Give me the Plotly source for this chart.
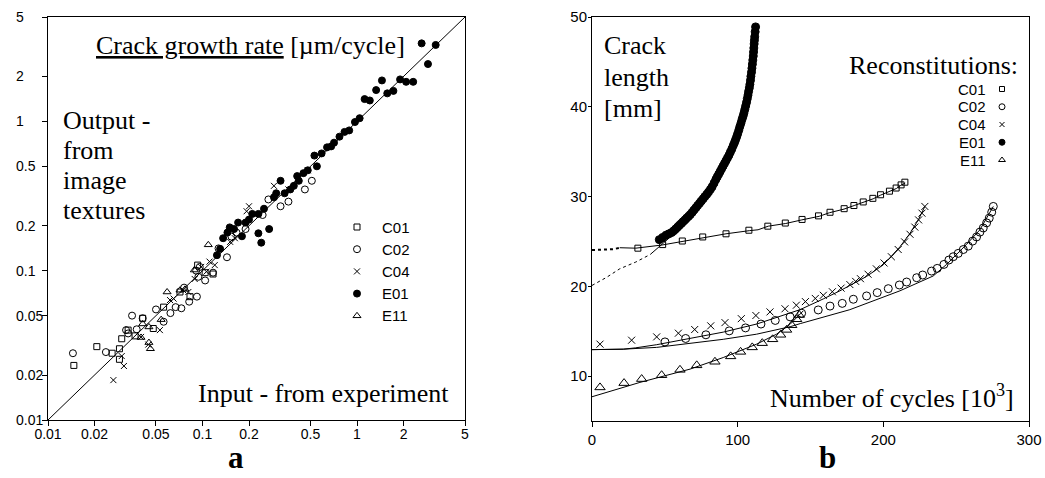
import math
import plotly.graph_objects as go

W, H = 1045, 478
SERIF = "Liberation Serif, Times New Roman, serif"
SANS = "Liberation Sans, Arial, sans-serif"

# ---------------- Panel a: crack growth rate, input vs output ----------------
diag_vals = [0.01, 5]

c01_in = [0.0147, 0.0207, 0.026, 0.029, 0.029, 0.030, 0.033, 0.0366, 0.041, 0.048,
          0.056, 0.0715, 0.083, 0.093, 0.104, 0.117]
c01_out = [0.0232, 0.031, 0.028, 0.030, 0.0255, 0.035, 0.040, 0.0366, 0.048, 0.041,
           0.057, 0.072, 0.067, 0.109, 0.097, 0.095]

c02_in = [0.0145, 0.0237, 0.033, 0.035, 0.032, 0.0375, 0.041, 0.050, 0.056, 0.062,
          0.067, 0.073, 0.082, 0.092, 0.076, 0.096, 0.104, 0.117, 0.091, 0.094,
          0.144, 0.127, 0.154, 0.166, 0.19, 0.245, 0.267, 0.32, 0.36, 0.46, 0.51]
c02_out = [0.028, 0.0285, 0.038, 0.050, 0.040, 0.0405, 0.048, 0.055, 0.0455, 0.052,
           0.057, 0.056, 0.062, 0.067, 0.077, 0.106, 0.086, 0.097, 0.10, 0.091,
           0.123, 0.141, 0.169, 0.18, 0.19, 0.236, 0.30, 0.27, 0.29, 0.35, 0.40]

c04_in = [0.0265, 0.031, 0.030, 0.040, 0.0446, 0.053, 0.0616, 0.065, 0.075, 0.081,
          0.089, 0.098, 0.106, 0.111, 0.12, 0.151, 0.162, 0.193, 0.20, 0.29, 0.36, 0.48]
c04_out = [0.0185, 0.023, 0.0268, 0.036, 0.032, 0.040, 0.0636, 0.065, 0.074, 0.072,
           0.088, 0.106, 0.0985, 0.115, 0.109, 0.156, 0.165, 0.25, 0.27, 0.37, 0.35, 0.47]

e01_in = [2.62, 3.23, 2.88, 1.45, 1.90, 2.08, 2.31, 1.33, 1.57, 1.72, 1.12, 1.21, 1.04,
          0.97, 0.89, 0.83, 0.77, 0.71, 0.68, 0.64, 0.59, 0.53, 0.55, 0.48, 0.45, 0.41,
          0.42, 0.32, 0.39, 0.37, 0.34, 0.30, 0.29, 0.25, 0.23, 0.21, 0.20, 0.19, 0.17,
          0.16, 0.15, 0.145, 0.136, 0.18, 0.23, 0.24, 0.27, 0.13, 0.124]
e01_out = [3.33, 3.25, 2.42, 1.88, 1.91, 1.84, 1.84, 1.62, 1.54, 1.60, 1.41, 1.38, 1.05,
           0.99, 0.87, 0.85, 0.79, 0.72, 0.68, 0.67, 0.61, 0.59, 0.50, 0.47, 0.45, 0.43,
           0.40, 0.40, 0.37, 0.35, 0.33, 0.33, 0.31, 0.26, 0.24, 0.24, 0.22, 0.21, 0.21,
           0.19, 0.195, 0.18, 0.165, 0.17, 0.178, 0.154, 0.19, 0.14, 0.127]

e11_in = [0.040, 0.041, 0.045, 0.046, 0.045, 0.054, 0.059, 0.0715, 0.077, 0.0885, 0.109]
e11_out = [0.0357, 0.044, 0.042, 0.030, 0.033, 0.047, 0.072, 0.074, 0.075, 0.101, 0.149]

log_ticks = [0.01, 0.02, 0.05, 0.1, 0.2, 0.5, 1, 2, 5]
log_tick_text = ["0.01", "0.02", "0.05", "0.1", "0.2", "0.5", "1", "2", "5"]

# ---------------- Panel b: crack length vs number of cycles ----------------
c01_cyc = [31.5, 48.5, 62, 76, 92, 107.7, 120.7, 132.7, 144.2, 155.5, 163.4, 173.1,
           179.8, 186.2, 192.8, 198.1, 204.2, 208.8, 212.2, 214.8]
c01_len = [24.25, 24.65, 25.05, 25.5, 25.85, 26.25, 26.7, 27.05, 27.45, 27.85, 28.25,
           28.65, 29.0, 29.4, 29.8, 30.2, 30.6, 30.95, 31.3, 31.6]
c01_line_cyc = [19, 30, 48, 62, 76, 92, 108, 114, 121, 133, 144, 156, 163, 173, 180,
                186, 193, 198, 204, 209, 212, 215]
c01_line_len = [24.3, 24.25, 24.6, 25.0, 25.45, 25.85, 26.2, 26.3, 26.7, 27.0, 27.4,
                27.8, 28.2, 28.6, 29.0, 29.35, 29.75, 30.15, 30.55, 30.9, 31.25, 31.5]
c01_dot_cyc = [0, 5, 10, 15, 19]
c01_dot_len = [24.05, 24.05, 24.1, 24.15, 24.3]

e01_cyc = [46.2, 48.5, 50.8, 52.8, 54.7, 56.2, 57.5, 58.8, 60, 61.3, 62.5, 63.8, 65,
           66.3, 67.5, 68.8, 70, 71.3, 72.5, 73.8, 75, 76.3, 77.5, 78.8, 80, 81.3,
           82.5, 83.8, 85, 86, 87, 88, 89, 90, 91, 92, 93, 94, 95, 96, 97, 97.8, 98.5,
           99.3, 100, 100.8, 101.5, 102.3, 103, 103.7, 104.3, 104.9, 105.5, 106.1,
           106.6, 107.1, 107.5, 108, 108.4, 108.8, 109.1, 109.5, 109.8, 110.1, 110.4,
           110.7, 110.9, 111.1, 111.3, 111.5, 111.7, 112, 112.3]
e01_len = [25.2, 25.45, 25.7, 25.85, 26.0, 26.2, 26.4, 26.6, 26.8, 27.0, 27.2, 27.4,
           27.6, 27.8, 28.0, 28.25, 28.5, 28.75, 29.0, 29.25, 29.5, 29.75, 30.0, 30.25,
           30.5, 30.8, 31.1, 31.5, 31.9, 32.2, 32.5, 32.8, 33.1, 33.4, 33.7, 34.0, 34.3,
           34.6, 34.95, 35.3, 35.7, 36.0, 36.3, 36.65, 37.0, 37.4, 37.8, 38.2, 38.6,
           38.95, 39.3, 39.7, 40.1, 40.5, 40.9, 41.3, 41.7, 42.1, 42.5, 42.95, 43.4,
           43.85, 44.3, 44.75, 45.2, 45.65, 46.1, 46.55, 47.0, 47.4, 47.8, 48.35, 48.9]
e01_line_cyc = [40, 44, 48, 53, 58, 63, 67, 70, 73, 77.5, 82, 86.7, 90, 94, 98, 102,
                105, 107.5, 109.5, 111, 112.3]
e01_line_len = [23.55, 24.1, 24.7, 25.4, 26.1, 26.8, 27.4, 28.0, 28.7, 30.0, 31.0, 31.9,
                33.1, 34.6, 36.3, 38.3, 40.1, 41.9, 44.0, 46.0, 48.3]
e01_dot_cyc = [0, 10, 19, 30, 40]
e01_dot_len = [20.1, 21.0, 21.95, 22.7, 23.55]

c04_cyc = [5.5, 27.2, 44.4, 59.3, 70.5, 81.5, 91.3, 102.5, 112.5, 122.2, 132.5, 140.3,
           146.5, 153.3, 158.8, 165.0, 171.0, 177.0, 181, 184.3, 189.5, 195.2, 200.5,
           205.5, 210.2, 214.6, 218.3, 221.6, 224.2, 226.5, 228.5]
c04_len = [13.56, 14.0, 14.37, 14.78, 15.19, 15.6, 15.96, 16.4, 16.75, 17.15, 17.5, 17.9,
           18.3, 18.65, 19.0, 19.4, 19.8, 20.2, 20.55, 20.85, 21.35, 21.95, 22.6, 23.3,
           24.1, 24.95, 25.8, 26.6, 27.4, 28.15, 28.9]
c04_line_cyc = [0, 10, 21.5, 30, 44.4, 67.3, 90.1, 113, 136, 142.8, 158.8, 170.2, 188.5,
                200, 211.4, 218.3, 224, 228.5]
c04_line_len = [12.95, 12.95, 13.0, 13.15, 13.5, 14.2, 14.9, 15.8, 17.0, 17.4, 18.6, 19.5,
                21.1, 22.4, 24.4, 25.9, 27.4, 28.9]

c02_cyc = [50.1, 64.3, 78.2, 94.2, 105.4, 116, 125.8, 136, 143.9, 155.3, 163.4, 171.8,
           179.4, 188.5, 195.8, 203.4, 211, 216, 222.9, 227, 233.1, 237, 241.6, 245, 248,
           251.4, 254.9, 258.3, 261.3, 264, 266.3, 268.6, 270.9, 272.7, 274.4, 275.5]
c02_len = [13.81, 14.19, 14.6, 15.04, 15.37, 15.8, 16.2, 16.6, 17.0, 17.37, 17.8, 18.1,
           18.56, 18.93, 19.3, 19.74, 20.15, 20.48, 20.96, 21.26, 21.7, 22.0, 22.44, 22.93,
           23.3, 23.67, 24.1, 24.48, 25.04, 25.5, 26.04, 26.5, 27.07, 27.6, 28.26, 28.9]
c02_line_cyc = [0, 21.5, 44.4, 67.3, 90.1, 113, 136, 143, 159, 171, 177, 211.4, 234.2,
                243.4, 257.1, 266.3, 275.5]
c02_line_len = [12.95, 13.0, 13.2, 13.63, 14.1, 14.67, 15.5, 15.85, 16.6, 17.1, 17.4,
                19.5, 21.15, 22.44, 24.67, 26.3, 28.9]

e11_cyc = [5.5, 22, 34.1, 47.8, 60.4, 71.9, 84.4, 95.2, 102, 110, 116.9, 124, 129.5,
           133.6, 137.1, 140.5, 142.3]
e11_len = [8.74, 9.22, 9.67, 10.1, 10.7, 11.2, 11.6, 12.2, 12.7, 13.2, 13.67, 14.1, 14.6,
           15.15, 15.67, 16.33, 16.8]
e11_line_cyc = [0, 32.9, 67.3, 90.1, 113, 126.7, 136, 145]
e11_line_len = [7.7, 9.3, 10.78, 12.07, 13.56, 14.67, 15.78, 17.26]

legend_names = ["C01", "C02", "C04", "E01", "E11"]

# ---------------- styles ----------------
BLACK = "black"
sym = {"C01": "square-open", "C02": "circle-open", "C04": "x-thin-open",
       "E01": "circle", "E11": "triangle-up-open"}
size_a = {"C01": 6, "C02": 7, "C04": 6, "E01": 7, "E11": 7}
size_b = {"C01": 6, "C02": 8, "C04": 7, "E01": 8, "E11": 9}


def mk(name, sizes, delta=0):
    return dict(symbol=sym[name], size=sizes[name] + delta, color=BLACK,
                line=dict(color=BLACK, width=1))


fig = go.Figure()

# panel a
fig.add_trace(go.Scatter(x=diag_vals, y=diag_vals, mode="lines",
                         line=dict(color=BLACK, width=1), xaxis="x", yaxis="y"))
for name, xs, ys in [("C01", c01_in, c01_out), ("C02", c02_in, c02_out),
                     ("C04", c04_in, c04_out), ("E11", e11_in, e11_out),
                     ("E01", e01_in, e01_out)]:
    fig.add_trace(go.Scatter(x=xs, y=ys, mode="markers", marker=mk(name, size_a),
                             xaxis="x", yaxis="y"))

# panel b lines
for xs, ys, dash, w in [(c01_dot_cyc, c01_dot_len, "dot", 2),
                        (e01_dot_cyc, e01_dot_len, "dot", 1),
                        (c01_line_cyc, c01_line_len, "solid", 1),
                        (e01_line_cyc, e01_line_len, "solid", 1),
                        (c04_line_cyc, c04_line_len, "solid", 1),
                        (c02_line_cyc, c02_line_len, "solid", 1),
                        (e11_line_cyc, e11_line_len, "solid", 1)]:
    fig.add_trace(go.Scatter(x=xs, y=ys, mode="lines",
                             line=dict(color=BLACK, width=w, dash=dash),
                             xaxis="x2", yaxis="y2"))
# panel b markers
for name, xs, ys in [("C01", c01_cyc, c01_len), ("C04", c04_cyc, c04_len),
                     ("C02", c02_cyc, c02_len), ("E11", e11_cyc, e11_len),
                     ("E01", e01_cyc, e01_len)]:
    fig.add_trace(go.Scatter(x=xs, y=ys, mode="markers", marker=mk(name, size_b),
                             xaxis="x2", yaxis="y2"))

# legends drawn on a pixel-space overlay axis
annotations = []
LA_X, LA_TX, LA_Y0, LA_DY = 357, 380, 227, 22.2
LB_X, LB_TX, LB_Y0, LB_DY = 1002, 988, 89, 17.75
for i, name in enumerate(legend_names):
    ya = LA_Y0 + LA_DY * i
    yb = LB_Y0 + LB_DY * i
    fig.add_trace(go.Scatter(x=[LA_X], y=[ya], mode="markers", marker=mk(name, size_a),
                             xaxis="x3", yaxis="y3"))
    fig.add_trace(go.Scatter(x=[LB_X], y=[yb], mode="markers",
                             marker=mk(name, size_a, -1), xaxis="x3", yaxis="y3"))
    annotations.append(dict(x=LA_TX / W, y=1 - ya / H, xref="paper", yref="paper",
                            text=name, showarrow=False, xanchor="left", yanchor="middle",
                            font=dict(family=SANS, size=15, color=BLACK)))
    annotations.append(dict(x=LB_TX / W, y=1 - yb / H, xref="paper", yref="paper",
                            text=name, showarrow=False, xanchor="right", yanchor="middle",
                            font=dict(family=SANS, size=15, color=BLACK)))

# left-aligned y tick labels of panel a
for v, t in zip(log_ticks, log_tick_text):
    annotations.append(dict(x=14 / W, y=math.log10(v), xref="paper", yref="y",
                            text=t, showarrow=False, xanchor="left", yanchor="middle",
                            font=dict(family=SANS, size=14, color=BLACK)))


def txt(px, py, text, anchor, size=26, bold=False):
    t = "<b>%s</b>" % text if bold else text
    return dict(x=px / W, y=1 - py / H, xref="paper", yref="paper", text=t,
                showarrow=False, xanchor=anchor, yanchor="middle", align=anchor,
                borderpad=0, font=dict(family=SERIF, size=size, color=BLACK))


annotations += [
    txt(95, 46, "<u>Crack growth rate</u> [µm/cycle]", "left"),
    txt(62, 120, "Output -", "left"),
    txt(62, 150, "from", "left"),
    txt(62, 180, "image", "left"),
    txt(62, 210, "textures", "left"),
    txt(450, 393, "Input - from experiment", "right"),
    txt(603, 46, "Crack", "left"),
    txt(603, 77, "length", "left"),
    txt(603, 108, "[mm]", "left"),
    txt(1019, 65, "Reconstitutions:", "right"),
    txt(1015, 396, "Number of cycles [10<sup>3</sup>]", "right"),
    txt(236, 457, "a", "center", size=31, bold=True),
    txt(827, 457, "b", "center", size=31, bold=True),
]

axis_common = dict(showline=True, mirror=True, linecolor=BLACK, linewidth=1,
                   ticks="outside", ticklen=5, tickcolor=BLACK, tickwidth=1,
                   showgrid=False, zeroline=False, automargin=False,
                   tickfont=dict(family=SANS, size=15, color=BLACK))

fig.update_layout(
    template="none",
    width=W, height=H, showlegend=False,
    margin=dict(l=0, r=0, t=0, b=0, pad=0, autoexpand=False),
    paper_bgcolor="white", plot_bgcolor="rgba(0,0,0,0)",
    xaxis=dict(axis_common, type="log", domain=[48 / W, 465 / W],
               range=[-2, math.log10(5)], tickvals=log_ticks, ticktext=log_tick_text,
               tickfont=dict(family=SANS, size=14, color=BLACK), anchor="y",
               ticklabelstandoff=-4),
    yaxis=dict(axis_common, type="log", domain=[1 - 420 / H, 1 - 17 / H],
               range=[-2, math.log10(5)], tickvals=log_ticks, showticklabels=False,
               anchor="x"),
    xaxis2=dict(axis_common, domain=[592 / W, 1029 / W], range=[0, 300],
                tickvals=[0, 100, 200, 300], anchor="y2"),
    yaxis2=dict(axis_common, domain=[1 - 421 / H, 1 - 17 / H], range=[5, 50],
                tickvals=[10, 20, 30, 40, 50], anchor="x2", ticklen=3,
                ticklabelstandoff=-2),
    xaxis3=dict(domain=[0, 1], range=[0, W], visible=False, anchor="y3",
                fixedrange=True, automargin=False),
    yaxis3=dict(domain=[0, 1], range=[H, 0], visible=False, anchor="x3",
                fixedrange=True, automargin=False),
    annotations=annotations,
)

fig.write_html("out.html", config={"displayModeBar": False},
               post_script="document.body.style.margin='0px';"
                           "document.body.style.overflow='hidden';")
